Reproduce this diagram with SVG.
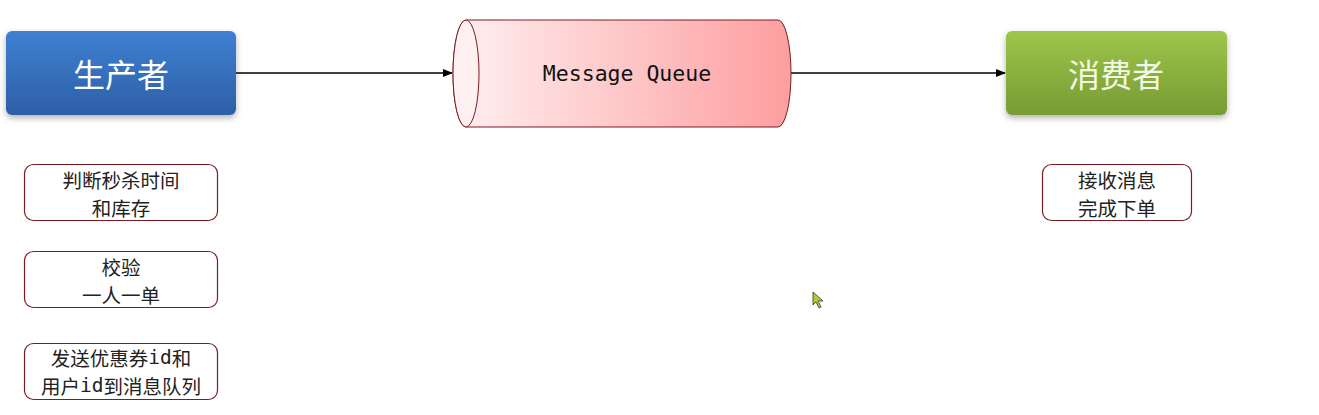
<svg xmlns="http://www.w3.org/2000/svg" width="1319" height="415" viewBox="0 0 1319 415">
<style>
.big{font-family:"Noto Sans CJK SC","Noto Sans",sans-serif;font-size:32px;text-anchor:middle;dominant-baseline:central}
.note{fill:#ffffff;stroke:#7a1c22;stroke-width:1.2}
.nt{font-family:"Noto Sans CJK SC","Noto Sans",sans-serif;font-size:19.5px;fill:#222;text-anchor:middle;dominant-baseline:central}
.mono{font-family:"DejaVu Sans Mono","Liberation Mono",monospace}
.conn{stroke:#000;stroke-width:1.3;fill:none;marker-end:url(#ah)}
</style>
<defs>
<linearGradient id="gb" x1="0" y1="0" x2="0" y2="1"><stop offset="0" stop-color="#3f80d2"/><stop offset="1" stop-color="#2d5fa6"/></linearGradient>
<linearGradient id="gg" x1="0" y1="0" x2="0" y2="1"><stop offset="0" stop-color="#9dc64b"/><stop offset="1" stop-color="#779b33"/></linearGradient>
<linearGradient id="gq" x1="0" y1="0" x2="1" y2="0"><stop offset="0" stop-color="#fff0f1"/><stop offset="1" stop-color="#fd9e9f"/></linearGradient>
<filter id="sh" x="-10%" y="-20%" width="120%" height="150%"><feDropShadow dx="0" dy="3" stdDeviation="3" flood-color="#000" flood-opacity="0.3"/></filter>
<marker id="ah" markerWidth="10" markerHeight="8" refX="9" refY="4" orient="auto" markerUnits="userSpaceOnUse"><path d="M0,0 L10,4 L0,8 Z" fill="#000"/></marker>
</defs>
<g id="connectors">
<line class="conn" x1="236" y1="73" x2="452" y2="73"/>
<line class="conn" x1="790" y1="73" x2="1005" y2="73"/>
</g>
<g id="producer">
<rect x="6" y="31" width="230" height="84" rx="6" fill="url(#gb)" filter="url(#sh)"/>
<text class="big" x="121" y="73" fill="#ffffff">生产者</text>
</g>
<g id="mq">
<path d="M466,20 L778,20 A13,53.5 0 0 1 778,127 L466,127 A13,53.5 0 0 1 466,20 Z" fill="url(#gq)" stroke="#7a1c22" stroke-width="1"/>
<ellipse cx="466" cy="73.5" rx="13" ry="53.5" fill="#fff0f1" stroke="#7a1c22" stroke-width="1"/>
<text x="627" y="73" class="mono" font-size="21.5" fill="#111" text-anchor="middle" dominant-baseline="central">Message Queue</text>
</g>
<g id="consumer">
<rect x="1006" y="31" width="221" height="84" rx="6" fill="url(#gg)" filter="url(#sh)"/>
<text class="big" x="1116" y="73" fill="#f4f8e8">消费者</text>
</g>
<g id="note1">
<rect class="note" x="24.5" y="164.5" width="193" height="56" rx="9"/>
<text class="nt" x="121" y="179">判断秒杀时间</text>
<text class="nt" x="121" y="207">和库存</text>
</g>
<g id="note2">
<rect class="note" x="24.5" y="251.5" width="193" height="56" rx="9"/>
<text class="nt" x="121" y="266">校验</text>
<text class="nt" x="121" y="294">一人一单</text>
</g>
<g id="note3">
<rect class="note" x="24.5" y="343.5" width="193" height="56" rx="9"/>
<text class="nt" x="121" y="357">发送优惠券<tspan class="mono">id</tspan>和</text>
<text class="nt" x="121" y="385">用户<tspan class="mono">id</tspan>到消息队列</text>
</g>
<g id="note4">
<rect class="note" x="1042.5" y="164.5" width="149" height="56" rx="9"/>
<text class="nt" x="1117" y="179">接收消息</text>
<text class="nt" x="1117" y="207">完成下单</text>
</g>
<g id="cursor">
<path d="M813,292 L813,305 L816,302 L819,308 L821,307 L818,301 L823,301 Z" fill="#a8d030" stroke="#333" stroke-width="0.8"/>
</g>
</svg>
